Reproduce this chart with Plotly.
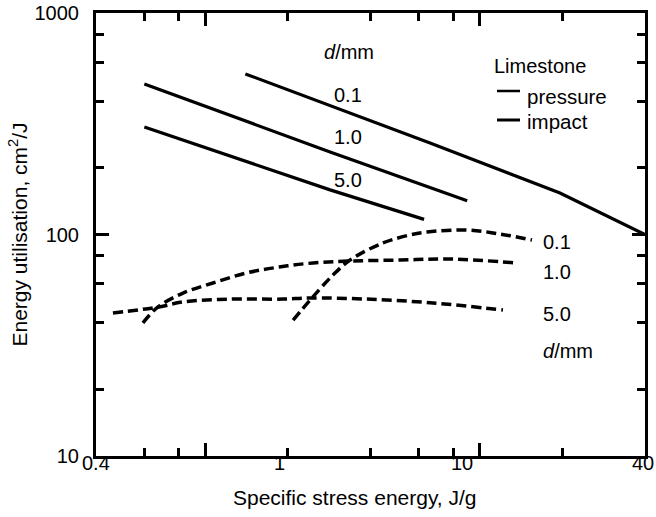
import plotly.graph_objects as go

# Pressure (solid) curves, d/mm = 0.1, 1.0, 5.0
p01_x = [1.40, 6.59, 19.6, 40]
p01_y = [531, 259, 154, 100]
p10_x = [0.60, 2.85, 9.0]
p10_y = [478, 236, 142]
p50_x = [0.60, 2.85, 6.27]
p50_y = [306, 159, 117]

# Impact (dashed) curves
i01_x = [2.09, 2.41, 2.92, 3.37, 4.44, 5.57, 6.43, 8.99, 11.86, 15.5]
i01_y = [41.1, 50.6, 65.6, 76.7, 91.6, 99.5, 102.6, 104.8, 100.5, 94.4]
i10_x = [0.593, 0.673, 0.83, 1.067, 1.41, 1.86, 2.47, 3.37, 5.12, 7.8, 13.67]
i10_y = [39.9, 47.1, 54.4, 60.4, 67.0, 71.3, 74.4, 75.9, 76.7, 77.5, 74.4]
i50_x = [0.461, 0.678, 0.83, 1.22, 1.92, 2.39, 3.88, 6.76, 12.15]
i50_y = [44.2, 47.1, 49.6, 51.1, 51.1, 51.7, 51.1, 49.1, 45.6]

x_tick_labels = ["0.4", "1", "10", "40"]
y_tick_vals = [10, 100, 1000]
y_tick_text = ["10", "100", "1000"]
x_title = "Specific stress energy, J/g"
y_title = "Energy utilisation, cm<sup>2</sup>/J"

FONT = "Liberation Sans, Arial, sans-serif"
fig = go.Figure()

solid = dict(color="black", width=3.2)
dashed = dict(color="black", width=3.5, dash="10px,5px")
for xs, ys in [(p01_x, p01_y), (p10_x, p10_y), (p50_x, p50_y)]:
    fig.add_trace(go.Scatter(x=xs, y=ys, mode="lines", line=solid,
                             showlegend=False, hoverinfo="skip"))
for xs, ys in [(i01_x, i01_y), (i10_x, i10_y), (i50_x, i50_y)]:
    fig.add_trace(go.Scatter(x=xs, y=ys, mode="lines", line=dict(**dashed, shape="spline", smoothing=1.0),
                             showlegend=False, hoverinfo="skip"))

W, H = 656, 517
L, R, T, B = 96, 11, 13, 61
X0, X1, Y0, Y1 = L, W - R, T, H - B

def px(xp):
    return (xp - X0) / (X1 - X0)

def py(yp):
    return (Y1 - yp) / (Y1 - Y0)

annots = []
def txt(text, x, y, anchor="center", size=20):
    annots.append(dict(text=text, x=px(x), y=py(y), xref="paper", yref="paper",
                       xanchor=anchor, yanchor="middle", showarrow=False,
                       font=dict(family=FONT, size=size, color="black")))

# x tick labels (as drawn in the reference: evenly spaced)
for i, lab in enumerate(x_tick_labels):
    annots.append(dict(text=lab, x=i / 3, y=0, xref="paper", yref="paper",
                       xanchor="center", yanchor="middle", yshift=-7,
                       xshift=(-2 if i == 3 else 0), showarrow=False,
                       font=dict(family=FONT, size=20, color="black")))

# x-axis title (slightly left of centre in the reference)
txt(x_title, 355, 497, size=21)

txt("<i>d</i>/mm", 349, 52)
txt("0.1", 348, 95)
txt("1.0", 348, 137)
txt("5.0", 348, 180)
txt("Limestone", 540, 66)
txt("pressure", 525, 96, anchor="left", size=20.5)
txt("impact", 525, 121, anchor="left", size=20.5)
txt("0.1", 541, 242, anchor="left")
txt("1.0", 541, 272, anchor="left")
txt("5.0", 541, 314, anchor="left")
txt("<i>d</i>/mm", 541, 351, anchor="left")

shapes = [
    dict(type="line", xref="paper", yref="paper", x0=px(497), x1=px(520), y0=py(91), y1=py(91),
         line=dict(color="black", width=2.5)),
    dict(type="line", xref="paper", yref="paper", x0=px(497), x1=px(520), y0=py(120), y1=py(120),
         line=dict(color="black", width=3)),
]

fig.update_layout(
    width=W, height=H,
    margin=dict(l=L, r=R, t=T, b=B),
    plot_bgcolor="white", paper_bgcolor="white",
    font=dict(family=FONT, size=20, color="black"),
    annotations=annots, shapes=shapes,
    xaxis=dict(type="log", range=[-0.39794, 1.60206], showgrid=False, zeroline=False,
               showline=True, linecolor="black", linewidth=3, mirror="ticks",
               ticks="inside", ticklen=13, tickwidth=2.5, tickcolor="black",
               tickmode="array", tickvals=[1, 10], showticklabels=False,
               minor=dict(ticks="inside", ticklen=8, tickwidth=2.5, tickcolor="black",
                          tickmode="array", tickvals=[0.6, 0.8, 2, 4, 6, 8, 20], showgrid=False),
               automargin=False),
    yaxis=dict(type="log", range=[1, 3], showgrid=False, zeroline=False,
               showline=True, linecolor="black", linewidth=3, mirror="ticks",
               ticks="inside", ticklen=13, tickwidth=2.5, tickcolor="black",
               tickmode="array", tickvals=y_tick_vals, ticktext=y_tick_text,
               ticklabelstandoff=10, ticklabeloverflow="allow",
               minor=dict(ticks="inside", ticklen=8, tickwidth=2.5, tickcolor="black",
                          tickmode="array", tickvals=[20, 40, 60, 80, 200, 400, 600, 800], showgrid=False),
               title=dict(text=y_title, font=dict(family=FONT, size=21), standoff=2),
               automargin=False),
)

fig.write_html("out.html", config={"displayModeBar": False},
               post_script="document.body.style.margin='0';")
